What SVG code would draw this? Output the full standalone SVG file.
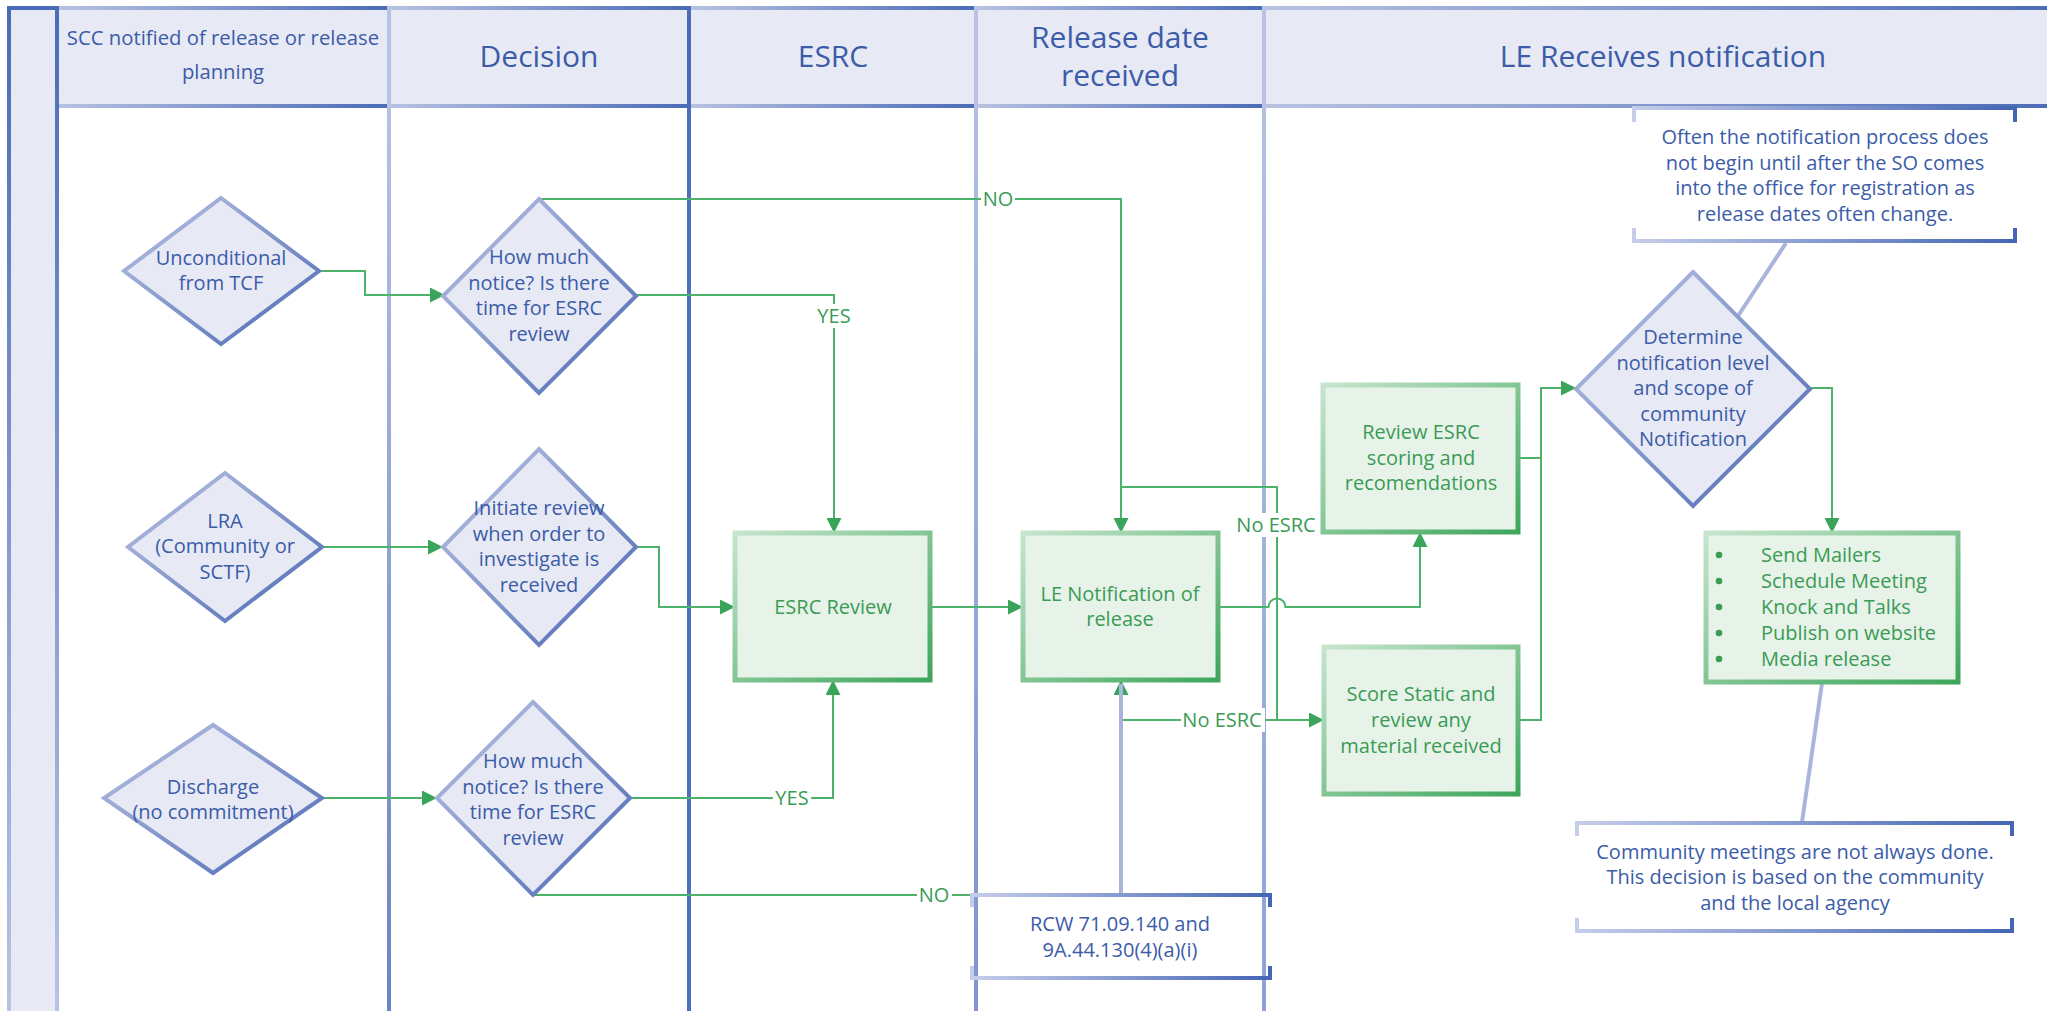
<svg xmlns="http://www.w3.org/2000/svg" width="2047" height="1011" viewBox="0 0 2047 1011">
<defs>
<style>
.t{font-family:"Open Sans","Noto Sans",sans-serif;font-size:20px;text-anchor:middle;}
.b{fill:#3b5ca8;}
.g{fill:#3a9b55;}
.h{font-size:30px;}
.dia{fill:#e7e9f5;stroke:url(#gDia);stroke-width:4;}
.box{fill:#e7f3e9;stroke:url(#gBox);stroke-width:5;}
.hdr{fill:#e7e9f5;stroke:url(#gHdr);stroke-width:4;}
.note{fill:none;stroke:url(#gNote);stroke-width:4;}
.con{fill:none;stroke:#4db36b;stroke-width:2;}
.arr{marker-end:url(#arr);}
.call{fill:none;stroke:#aab5dc;stroke-width:4;}
.lbg{fill:#ffffff;}
.lane{stroke-width:4;fill:none;}
</style>
<linearGradient id="gHdr" x1="0" y1="0" x2="1" y2="0"><stop offset="0" stop-color="#b8c2e2"/><stop offset="1" stop-color="#4a6bb7"/></linearGradient>
<linearGradient id="gDia" x1="0" y1="0" x2="1" y2="1"><stop offset="0" stop-color="#bcc5e4"/><stop offset="1" stop-color="#4c69b4"/></linearGradient>
<linearGradient id="gBox" x1="0" y1="0" x2="1" y2="1"><stop offset="0" stop-color="#c6e5cd"/><stop offset="1" stop-color="#3ea65b"/></linearGradient>
<linearGradient id="gNote" x1="0" y1="0" x2="1" y2="0"><stop offset="0" stop-color="#c6cdea"/><stop offset="1" stop-color="#4466b5"/></linearGradient>
<linearGradient id="gBand" gradientUnits="userSpaceOnUse" x1="0" y1="8" x2="0" y2="1011"><stop offset="0" stop-color="#4a6bb7"/><stop offset="1" stop-color="#b9c3e3"/></linearGradient>
<linearGradient id="g57" gradientUnits="userSpaceOnUse" x1="0" y1="106" x2="0" y2="1011"><stop offset="0" stop-color="#4a6bb7"/><stop offset="1" stop-color="#b9c3e3"/></linearGradient>
<linearGradient id="g389" gradientUnits="userSpaceOnUse" x1="0" y1="106" x2="0" y2="1011"><stop offset="0" stop-color="#b6c0e1"/><stop offset="1" stop-color="#6b84c5"/></linearGradient>
<linearGradient id="g976" gradientUnits="userSpaceOnUse" x1="0" y1="106" x2="0" y2="1011"><stop offset="0" stop-color="#b3bde0"/><stop offset="1" stop-color="#7f94cd"/></linearGradient>
<linearGradient id="g1264" gradientUnits="userSpaceOnUse" x1="0" y1="106" x2="0" y2="1011"><stop offset="0" stop-color="#b6c0e1"/><stop offset="1" stop-color="#8fa2d4"/></linearGradient>
<marker id="arr" viewBox="0 0 10 10" refX="10" refY="5" markerWidth="16" markerHeight="15" markerUnits="userSpaceOnUse" orient="auto"><path d="M0,0 L10,5 L0,10 z" fill="#3aa55a"/></marker>
</defs>
<rect x="0" y="0" width="2047" height="1011" fill="#ffffff"/>

<g id="lanes">
<line class="lane" x1="57" y1="106" x2="57" y2="1011" stroke="url(#g57)"/>
<line class="lane" x1="389" y1="106" x2="389" y2="1011" stroke="url(#g389)"/>
<line class="lane" x1="689" y1="106" x2="689" y2="1011" stroke="#4f6fba"/>
<line class="lane" x1="976" y1="106" x2="976" y2="1011" stroke="url(#g976)"/>
<line class="lane" x1="1264" y1="106" x2="1264" y2="1011" stroke="url(#g1264)"/>
</g>

<g id="header">
<rect class="hdr" x="57" y="8" width="332" height="98"/>
<rect class="hdr" x="689" y="8" width="287" height="98"/>
<rect class="hdr" x="389" y="8" width="300" height="98"/>
<rect class="hdr" x="976" y="8" width="288" height="98"/>
<rect class="hdr" x="1264" y="8" width="800" height="98"/>
<rect x="9" y="8" width="48" height="1012" fill="#e7e9f5" stroke="url(#gBand)" stroke-width="4"/>
<text class="t b" x="223" y="45" style="font-size:20.3px">SCC notified of release or release</text>
<text class="t b" x="223" y="79" style="font-size:20.3px">planning</text>
<text class="t b h" x="539" y="67">Decision</text>
<text class="t b h" x="833" y="67">ESRC</text>
<text class="t b h" x="1120" y="48">Release date</text>
<text class="t b h" x="1120" y="86">received</text>
<text class="t b h" x="1663" y="67">LE Receives notification</text>
</g>

<g id="connectors">
<path class="con arr" d="M319,271 H365 V295 H445"/>
<path class="con arr" d="M539,199 H1121 V533"/>
<path class="con arr" d="M636,295 H834 V533"/>
<path class="con arr" d="M322,547 H443"/>
<path class="con arr" d="M636,547 H659 V607 H735"/>
<path class="con arr" d="M930,607 H1023"/>
<path class="con arr" d="M322,798 H437"/>
<path class="con arr" d="M630,798 H833 V680"/>
<path class="con arr" d="M533,895 H1121 V680"/>
<path class="con arr" d="M1218,607 H1268.5 A8.5,8.5 0 0 1 1285.5,607 H1420 V532"/>
<path class="con arr" d="M1121,487 H1277 V720 H1324"/>
<path class="con" d="M1121,720 H1277"/>
<path class="con arr" d="M1518,458 H1541 V388 H1576"/>
<path class="con" d="M1518,720 H1541 V458"/>
<path class="con arr" d="M1810,388 H1832 V533"/>
<line class="call" x1="1121" y1="893" x2="1121" y2="684" stroke-width="5"/>
<line class="call" x1="1786" y1="243" x2="1738" y2="316"/>
<line class="call" x1="1822" y1="683" x2="1802" y2="822"/>
<rect class="lbg" x="981" y="187" width="34" height="24"/>
<text class="t g" x="998" y="206">NO</text>
<rect class="lbg" x="814" y="304" width="40" height="24"/>
<text class="t g" x="834" y="323">YES</text>
<rect class="lbg" x="773" y="786" width="38" height="24"/>
<text class="t g" x="792" y="805">YES</text>
<rect class="lbg" x="917" y="883" width="35" height="24"/>
<text class="t g" x="934" y="902">NO</text>
<rect class="lbg" x="1234" y="513" width="84" height="24"/>
<text class="t g" x="1276" y="532">No ESRC</text>
<rect class="lbg" x="1181" y="708" width="84" height="24"/>
<text class="t g" x="1222" y="727">No ESRC</text>
</g>

<g id="d-unconditional">
<polygon class="dia" points="221,198 319,271 221,344 124,271"/>
<text class="t b" x="221" y="265">Unconditional</text>
<text class="t b" x="221" y="290">from TCF</text>
</g>
<g id="d-notice1">
<polygon class="dia" points="539,199 636,296 539,393 443,296"/>
<text class="t b" x="539" y="264">How much</text>
<text class="t b" x="539" y="290">notice? Is there</text>
<text class="t b" x="539" y="315">time for ESRC</text>
<text class="t b" x="539" y="341">review</text>
</g>
<g id="d-lra">
<polygon class="dia" points="225,473 322,547 225,621 128,547"/>
<text class="t b" x="225" y="528">LRA</text>
<text class="t b" x="225" y="553">(Community or</text>
<text class="t b" x="225" y="579">SCTF)</text>
</g>
<g id="d-initiate">
<polygon class="dia" points="539,449 636,547 539,645 443,547"/>
<text class="t b" x="539" y="515">Initiate review</text>
<text class="t b" x="539" y="541">when order to</text>
<text class="t b" x="539" y="566">investigate is</text>
<text class="t b" x="539" y="592">received</text>
</g>
<g id="d-discharge">
<polygon class="dia" points="213,725 322,798 213,873 104,798"/>
<text class="t b" x="213" y="794">Discharge</text>
<text class="t b" x="213" y="819">(no commitment)</text>
</g>
<g id="d-notice2">
<polygon class="dia" points="533,702 630,798 533,895 437,798"/>
<text class="t b" x="533" y="768">How much</text>
<text class="t b" x="533" y="794">notice? Is there</text>
<text class="t b" x="533" y="819">time for ESRC</text>
<text class="t b" x="533" y="845">review</text>
</g>
<g id="d-determine">
<polygon class="dia" points="1693,272 1810,389 1693,506 1576,389"/>
<text class="t b" x="1693" y="344">Determine</text>
<text class="t b" x="1693" y="370">notification level</text>
<text class="t b" x="1693" y="395">and scope of</text>
<text class="t b" x="1693" y="421">community</text>
<text class="t b" x="1693" y="446">Notification</text>
</g>

<g id="p-esrc-review">
<rect class="box" x="735" y="533" width="195" height="147"/>
<text class="t g" x="833" y="614">ESRC Review</text>
</g>
<g id="p-le-notification">
<rect class="box" x="1023" y="533" width="195" height="147"/>
<text class="t g" x="1120" y="601">LE Notification of</text>
<text class="t g" x="1120" y="626">release</text>
</g>
<g id="p-review-esrc">
<rect class="box" x="1323" y="385" width="195" height="147"/>
<text class="t g" x="1421" y="439">Review ESRC</text>
<text class="t g" x="1421" y="465">scoring and</text>
<text class="t g" x="1421" y="490">recomendations</text>
</g>
<g id="p-score-static">
<rect class="box" x="1324" y="647" width="194" height="147"/>
<text class="t g" x="1421" y="701">Score Static and</text>
<text class="t g" x="1421" y="727">review any</text>
<text class="t g" x="1421" y="753">material received</text>
</g>
<g id="p-actions">
<rect class="box" x="1706" y="533" width="252" height="149"/>
<g class="g">
<circle cx="1719" cy="555" r="3.3"/>
<circle cx="1719" cy="581" r="3.3"/>
<circle cx="1719" cy="607" r="3.3"/>
<circle cx="1719" cy="633" r="3.3"/>
<circle cx="1719" cy="659" r="3.3"/>
</g>
<text class="t g" x="1761" y="562" style="text-anchor:start">Send Mailers</text>
<text class="t g" x="1761" y="588" style="text-anchor:start">Schedule Meeting</text>
<text class="t g" x="1761" y="614" style="text-anchor:start">Knock and Talks</text>
<text class="t g" x="1761" y="640" style="text-anchor:start">Publish on website</text>
<text class="t g" x="1761" y="666" style="text-anchor:start">Media release</text>
</g>

<g id="n-often">
<path class="note" d="M1634,122 V108 H2015 V122 M1634,228 V241 H2015 V228"/>
<text class="t b" x="1825" y="144">Often the notification process does</text>
<text class="t b" x="1825" y="170">not begin until after the SO comes</text>
<text class="t b" x="1825" y="195">into the office for registration as</text>
<text class="t b" x="1825" y="221">release dates often change.</text>
</g>
<g id="n-community">
<path class="note" d="M1577,836 V823 H2012 V836 M1577,918 V931 H2012 V918"/>
<text class="t b" x="1795" y="859">Community meetings are not always done.</text>
<text class="t b" x="1795" y="884">This decision is based on the community</text>
<text class="t b" x="1795" y="910">and the local agency</text>
</g>
<g id="n-rcw">
<path class="note" d="M972,907 V895 H1270 V907 M972,966 V978 H1270 V966"/>
<text class="t b" x="1120" y="931">RCW 71.09.140 and</text>
<text class="t b" x="1120" y="957">9A.44.130(4)(a)(i)</text>
</g>
</svg>
